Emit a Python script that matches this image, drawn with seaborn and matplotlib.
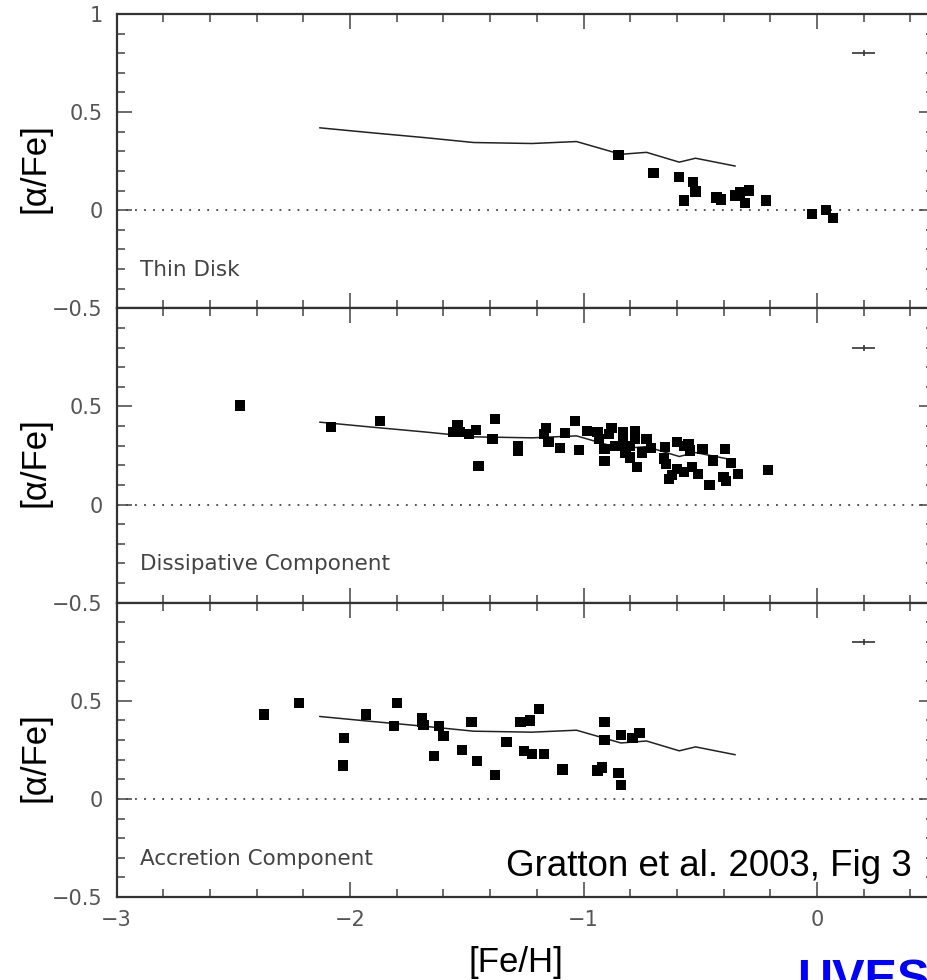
import matplotlib
matplotlib.use("Agg")
import matplotlib.pyplot as plt
import seaborn as sns
import pandas as pd
from matplotlib.ticker import FixedLocator, FixedFormatter, MultipleLocator

# ---------------- data ----------------
model_feh = [-2.13, -1.91, -1.68, -1.47, -1.22, -1.03, -0.84, -0.73, -0.59, -0.52, -0.35]
model_alpha = [0.42, 0.395, 0.37, 0.345, 0.34, 0.35, 0.285, 0.295, 0.245, 0.265, 0.225]

thin_feh = [-0.85, -0.70, -0.59, -0.53, -0.52, -0.57, -0.43, -0.41, -0.35, -0.33,
            -0.29, -0.31, -0.22, -0.02, 0.04, 0.07]
thin_alpha = [0.28, 0.19, 0.17, 0.145, 0.095, 0.05, 0.065, 0.055, 0.075, 0.09,
              0.10, 0.035, 0.05, -0.02, 0.0, -0.04]

diss_feh = [-2.47, -2.08, -1.87, -1.54, -1.56, -1.53, -1.49, -1.46, -1.45, -1.38,
            -1.39, -1.28, -1.28, -1.16, -1.17, -1.15, -1.10, -1.08, -1.035, -1.02,
            -0.985, -0.94, -0.935, -0.88, -0.89, -0.91, -0.91, -0.865, -0.83, -0.83,
            -0.82, -0.80, -0.78, -0.78, -0.80, -0.77, -0.75, -0.73, -0.71, -0.65,
            -0.655, -0.645, -0.60, -0.60, -0.635, -0.62, -0.57, -0.55, -0.545, -0.57,
            -0.535, -0.51, -0.49, -0.46, -0.445, -0.395, -0.40, -0.39, -0.37, -0.34,
            -0.21]
diss_alpha = [0.505, 0.395, 0.425, 0.405, 0.37, 0.37, 0.36, 0.38, 0.195, 0.435,
              0.335, 0.30, 0.275, 0.39, 0.36, 0.32, 0.29, 0.365, 0.425, 0.28,
              0.375, 0.37, 0.335, 0.39, 0.36, 0.285, 0.22, 0.30, 0.37, 0.32,
              0.265, 0.24, 0.375, 0.335, 0.30, 0.19, 0.265, 0.335, 0.29, 0.295,
              0.235, 0.205, 0.32, 0.18, 0.13, 0.15, 0.30, 0.31, 0.275, 0.165,
              0.19, 0.155, 0.285, 0.10, 0.225, 0.285, 0.14, 0.12, 0.21, 0.155,
              0.175]

acc_feh = [-2.37, -2.22, -2.025, -2.03, -1.93, -1.80, -1.81, -1.69, -1.69, -1.685,
           -1.62, -1.60, -1.64, -1.52, -1.48, -1.455, -1.38, -1.33, -1.27, -1.23,
           -1.19, -1.255, -1.22, -1.17, -1.09, -0.91, -0.91, -0.84, -0.79, -0.76,
           -0.94, -0.92, -0.85, -0.84]
acc_alpha = [0.43, 0.49, 0.31, 0.17, 0.43, 0.49, 0.37, 0.41, 0.39, 0.375,
             0.37, 0.32, 0.22, 0.25, 0.39, 0.195, 0.12, 0.29, 0.39, 0.40,
             0.46, 0.245, 0.23, 0.23, 0.15, 0.39, 0.30, 0.325, 0.31, 0.335,
             0.145, 0.16, 0.13, 0.07]

panel_labels = ["Thin Disk", "Dissipative Component", "Accretion Component"]
x_ticks = [-3, -2, -1, 0]
x_ticklabels = ["\u22123", "\u22122", "\u22121", "0"]
y_ticks = [-0.5, 0, 0.5, 1]
y_ticklabels = ["\u22120.5", "0", "0.5", "1"]
err_x, err_y, err_dx, err_dy = 0.2, 0.8, 0.05, 0.015

panels = [(thin_feh, thin_alpha), (diss_feh, diss_alpha), (acc_feh, acc_alpha)]

# ---------------- style ----------------
sns.set_style("ticks")
plt.rcParams["font.family"] = ["DejaVu Sans"]

W, H = 928, 980
fig = plt.figure(figsize=(W / 100, H / 100), dpi=100)

left_px, right_px = 116.5, 933.75
top_px, bot_px = 14.0, 897.0
ph = (bot_px - top_px) / 3

model_df = pd.DataFrame({"feh": model_feh, "alpha": model_alpha})

for i, (fx, fy) in enumerate(panels):
    t = top_px + i * ph
    ax = fig.add_axes([left_px / W, 1 - (t + ph) / H, (right_px - left_px) / W, ph / H])
    df = pd.DataFrame({"feh": fx, "alpha": fy})

    ax.axhline(0, ls=(0, (1, 4)), lw=1.3, color="#444444", zorder=1)
    sns.lineplot(data=model_df, x="feh", y="alpha", sort=False, estimator=None,
                 color="#222222", lw=1.1, ax=ax, zorder=2)
    sns.scatterplot(data=df, x="feh", y="alpha", marker="s", s=54, color="black",
                    edgecolor="none", ax=ax, zorder=3)
    ax.errorbar([err_x], [err_y], xerr=[err_dx], yerr=[err_dy], fmt="none",
                ecolor="#333333", elinewidth=1.2, capsize=0, zorder=3)

    ax.set_xlim(-3, 0.5)
    ax.set_ylim(-0.5, 1)
    ax.set_xlabel("")
    ax.set_ylabel("")

    ax.xaxis.set_major_locator(FixedLocator(x_ticks))
    ax.xaxis.set_minor_locator(MultipleLocator(0.2))
    if i == 2:
        ax.xaxis.set_major_formatter(FixedFormatter(x_ticklabels))
    else:
        ax.xaxis.set_major_formatter(FixedFormatter([""] * len(x_ticks)))
    ax.yaxis.set_major_locator(FixedLocator(y_ticks))
    ax.yaxis.set_minor_locator(MultipleLocator(0.1))
    ylabs = list(y_ticklabels) if i == 0 else y_ticklabels[:-1] + [""]
    ax.yaxis.set_major_formatter(FixedFormatter(ylabs))

    ax.tick_params(which="both", direction="in", top=True, right=True,
                   color="#444444", width=1.1, labelsize=15, labelcolor="#555555")
    ax.tick_params(which="major", length=10.8)
    ax.tick_params(which="minor", length=5.8)
    ax.tick_params(axis="y", which="major", pad=10)
    ax.tick_params(axis="x", which="major", pad=9)
    for sp in ax.spines.values():
        sp.set_linewidth(1.6)
        sp.set_color("#333333")

    ax.text(-2.9, -0.335, panel_labels[i], fontsize=15.5, color="#444444",
            va="baseline", ha="left")

    # y label for each panel
    cy = t + ph / 2 + 7
    fig.text(35 / W, 1 - cy / H, "[\u03b1/Fe]", rotation=90, ha="center", va="center",
             fontsize=25, family=["Liberation Sans", "DejaVu Sans"], color="black")

fig.text(516 / W, 1 - 962 / H, "[Fe/H]", ha="center", va="center", fontsize=25,
         family=["Liberation Sans", "DejaVu Sans"], color="black")
fig.text(506 / W, 1 - 876 / H, "Gratton et al. 2003, Fig 3", ha="left", va="baseline",
         fontsize=26.5, family=["Liberation Sans", "DejaVu Sans"], color="black")
# partially visible banner text (cut off by the figure edge, as in the reference)
fig.text(797 / W, 1 - 993 / H, "UVES", ha="left", va="baseline", fontsize=35,
         fontweight="bold", family=["Liberation Sans", "DejaVu Sans"], color="#0000ff")

fig.savefig("out.png", dpi=100)
